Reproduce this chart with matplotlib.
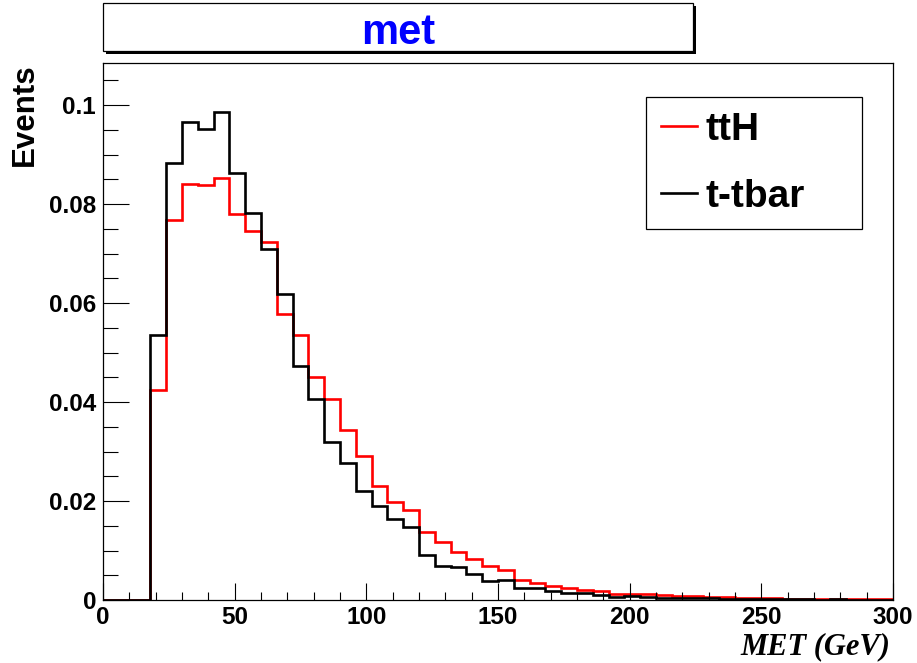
import numpy as np
import matplotlib.pyplot as plt
from matplotlib.patches import Rectangle
from matplotlib.lines import Line2D
from matplotlib.ticker import MultipleLocator, FuncFormatter

# MET histogram, 50 bins of 6 GeV from 0 to 300
edges = np.arange(0, 301, 6)

tth = [0.0, 0.0, 0.0,
       0.0424, 0.0768, 0.0840, 0.0838, 0.0853, 0.0780, 0.0745, 0.0724,
       0.0577, 0.0535, 0.0450, 0.0406, 0.0343, 0.0290, 0.0231, 0.0199,
       0.0181, 0.0138, 0.0117, 0.0096, 0.0083, 0.0069, 0.0061, 0.0040,
       0.0034, 0.0028, 0.0024, 0.0021, 0.0018, 0.0012, 0.0013, 0.0013,
       0.0011, 0.0008, 0.0008, 0.0006, 0.0006, 0.0005, 0.0004, 0.0004,
       0.0003, 0.0003, 0.0003, 0.0003, 0.0002, 0.0002, 0.0002]

ttbar = [0.0, 0.0, 0.0,
         0.0535, 0.0882, 0.0965, 0.0951, 0.0985, 0.0862, 0.0782, 0.0710,
         0.0618, 0.0473, 0.0407, 0.0319, 0.0276, 0.0220, 0.0190, 0.0164,
         0.0148, 0.0091, 0.0069, 0.0067, 0.0053, 0.0038, 0.0040, 0.0025,
         0.0025, 0.0019, 0.0015, 0.0014, 0.0010, 0.0007, 0.0008, 0.0007,
         0.0005, 0.0004, 0.0005, 0.0004, 0.0003, 0.0003, 0.0002, 0.0002,
         0.0002, 0.0002, 0.0001, 0.0002, 0.0001, 0.0001, 0.0001]

labels = ['ttH', 't-tbar']

plt.rcParams['font.family'] = ['Liberation Sans', 'DejaVu Sans']
plt.rcParams['font.weight'] = 'bold'

W, H = 917, 663
fig = plt.figure(figsize=(W / 100, H / 100), dpi=100)
ax = fig.add_axes([103 / W, 1 - 600 / H, 790 / W, 537 / H])

ax.stairs(tth, edges, color='red', lw=1.9, baseline=None)
ax.stairs(ttbar, edges, color='black', lw=1.9, baseline=None)

ax.set_xlim(0, 300)
ax.set_ylim(0, 0.1085)

ax.xaxis.set_major_locator(MultipleLocator(50))
ax.xaxis.set_minor_locator(MultipleLocator(10))
ax.yaxis.set_major_locator(MultipleLocator(0.02))
ax.yaxis.set_minor_locator(MultipleLocator(0.005))
ax.yaxis.set_major_formatter(FuncFormatter(lambda v, p: '%g' % round(v, 3)))

ax.tick_params(which='both', direction='in', top=False, right=False,
               width=0.8, labelsize=17.5)
ax.tick_params(axis='x', which='major', length=12, pad=4)
ax.tick_params(axis='x', which='minor', length=5.8)
ax.tick_params(axis='y', which='major', length=18.5, pad=5)
ax.tick_params(axis='y', which='minor', length=10.5)
for s in ax.spines.values():
    s.set_linewidth(0.9)

ax.set_ylabel('Events', fontsize=22.5, fontweight='bold', loc='top')
ax.yaxis.set_label_coords(-0.08, 1.0)
ax.set_xlabel('MET (GeV)', fontsize=22, fontweight='bold', style='italic',
              family='Liberation Serif', loc='right')
ax.xaxis.set_label_coords(0.997, -0.06)

handles = [Line2D([], [], color='red', lw=1.9), Line2D([], [], color='black', lw=1.9)]
leg = ax.legend(handles, labels, loc='upper left',
                bbox_to_anchor=(0.687, 0.687, 0.274, 0.25), mode='expand',
                fontsize=28, frameon=True, fancybox=False, framealpha=1,
                edgecolor='black', borderpad=0.38, labelspacing=0.8,
                handlelength=0.95, handletextpad=0.2, borderaxespad=0)
leg.get_frame().set_linewidth(0.9)

# title box with drop shadow
fig.add_artist(Rectangle((106 / W, 1 - 54 / H), 590 / W, 48 / H,
                         transform=fig.transFigure, facecolor='black',
                         edgecolor='black', lw=0))
fig.add_artist(Rectangle((103 / W, 1 - 51 / H), 590 / W, 48 / H,
                         transform=fig.transFigure, facecolor='white',
                         edgecolor='black', lw=0.9))
fig.text(398 / W, 1 - 44 / H, 'met', color='blue', fontsize=30,
         fontweight='bold', ha='center', va='baseline')

fig.savefig('out.png', dpi=100)
